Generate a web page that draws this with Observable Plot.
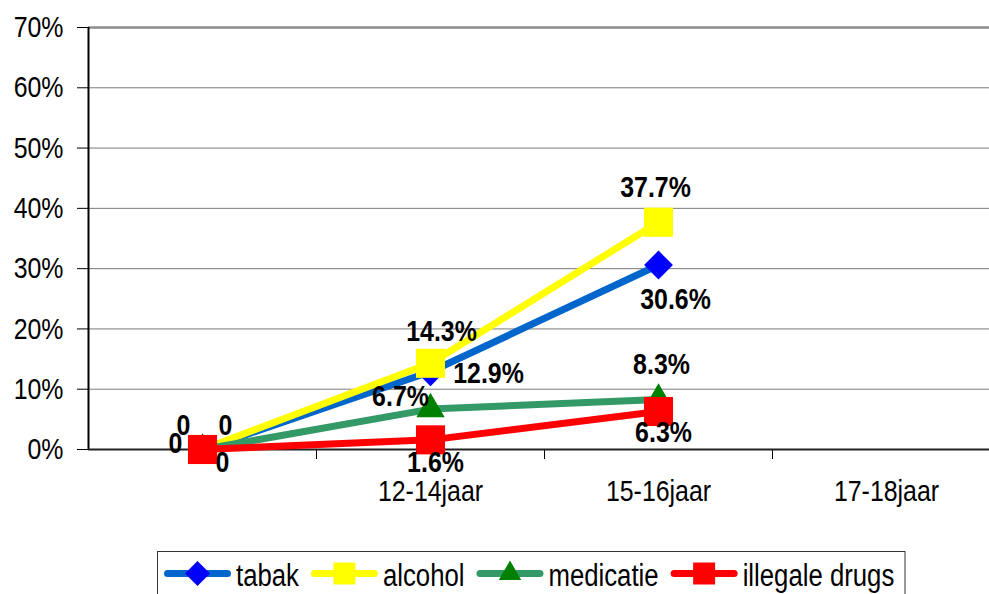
<!DOCTYPE html>
<html>
<head>
<meta charset="utf-8">
<script src="https://cdn.jsdelivr.net/npm/d3@7"></script>
<script src="https://cdn.jsdelivr.net/npm/@observablehq/plot@0.6"></script>
<style>
  html, body { margin: 0; padding: 0; background: #fff; overflow: hidden; }
  #wrap { position: relative; width: 989px; height: 594px; overflow: hidden; }
  #legend { position: absolute; left: 0; top: 545px; }
</style>
</head>
<body>
<div id="wrap"><div id="chart"></div><div id="legend"></div></div>
<script>
// ---- data ----
const categories = ["", "12-14jaar", "15-16jaar", "17-18jaar"];
const seriesNames = ["tabak", "alcohol", "medicatie", "illegale drugs"];
const tabak = [0, 12.9, 30.6, null];
const alcohol = [0, 14.3, 37.7, null];
const medicatie = [0, 6.7, 8.3, null];
const illegaleDrugs = [0, 1.6, 6.3, null];
const yTicks = [0, 10, 20, 30, 40, 50, 60, 70];

// ---- styles ----
const values = [tabak, alcohol, medicatie, illegaleDrugs];
const lineColors = ["#0066CC", "#FFFF00", "#339966", "#FF0000"];
const markColors = ["#0000FF", "#FFFF00", "#008000", "#FF0000"];
const symbols = ["diamond2", "square", "triangle", "square"];
const radii = [13, 16.4, 10.5, 16.4];
const legendRadii = [11.3, 12.4, 8.3, 12.4];
// label offsets (dx, dy) per series per category
const labelOffsets = [
  [[23, -24], [58, 2], [17, 34]],
  [[-19, -24], [11, -32], [-3, -35]],
  [[-27, -6], [-30, -13], [3, -35]],
  [[20, 13], [5, 23], [5, 21]]
];
const font = "Liberation Sans, Arial, sans-serif";
const condenseFactor = 0.83;

function condense(root) {
  root.querySelectorAll("text").forEach(t => {
    const len = t.getComputedTextLength();
    if (len > 0) {
      t.setAttribute("textLength", (len * condenseFactor).toFixed(2));
      t.setAttribute("lengthAdjust", "spacingAndGlyphs");
    }
  });
}

const marks = [];
// gridlines
marks.push(Plot.ruleY(yTicks.filter(d => d > 0 && d < 70), {stroke: "#7a7a7a", strokeWidth: 1}));
marks.push(Plot.ruleY([70], {stroke: "#8c8c8c", strokeWidth: 2.5}));
// axes
marks.push(Plot.axisY({ticks: yTicks, tickFormat: d => d + "%", tickSize: 11, tickPadding: 14, label: null,
  fontSize: 30, fill: "#000", stroke: "#000", strokeWidth: 1, strokeOpacity: 1}));
marks.push(Plot.axisX({ticks: [0.5, 1.5, 2.5], tickFormat: () => "", tickSize: 10, label: null,
  stroke: "#000", strokeOpacity: 1}));
marks.push(Plot.axisX({ticks: [1, 2, 3], tickFormat: i => categories[i], tickSize: 0, tickPadding: 30, label: null,
  fontSize: 30, fill: "#000"}));
marks.push(Plot.ruleX([-0.5], {stroke: "#000", strokeWidth: 2}));
marks.push(Plot.ruleY([0], {stroke: "#222", strokeWidth: 2}));

// series
values.forEach((vals, s) => {
  const data = vals.map((v, i) => ({i, v})).filter(d => d.v != null);
  marks.push(Plot.line(data, {x: "i", y: "v", stroke: lineColors[s], strokeWidth: 7, strokeLinejoin: "round"}));
  marks.push(Plot.dot(data, {x: "i", y: "v", symbol: symbols[s], r: radii[s], fill: markColors[s], stroke: "none"}));
});
// labels
values.forEach((vals, s) => {
  vals.forEach((v, i) => {
    if (v == null) return;
    const [dx, dy] = labelOffsets[s][i];
    marks.push(Plot.text([{i, v}], {x: "i", y: "v", text: d => d.v === 0 ? "0" : d.v.toFixed(1) + "%",
      dx, dy, fontSize: 30, fontWeight: "bold", fill: "#000"}));
  });
});

const chart = Plot.plot({
  width: 989,
  height: 545,
  marginLeft: 88,
  marginRight: 0,
  marginTop: 27,
  marginBottom: 96,
  style: {fontFamily: font, background: "#fff", overflow: "visible"},
  x: {type: "linear", domain: [-0.5, 3.5], range: [88, 1000], axis: null},
  y: {domain: [0, 70], axis: null},
  marks
});
document.getElementById("chart").appendChild(chart);
condense(chart);

// legend (separate svg below the chart)
const symMap = {diamond2: d3.symbolDiamond2, square: d3.symbolSquare, triangle: d3.symbolTriangle};
const lsvg = d3.select("#legend").append("svg").attr("width", 989).attr("height", 49)
  .style("font-family", font).style("font-size", "31px");
lsvg.append("rect").attr("x", 157.5).attr("y", 6.5).attr("width", 747.5).attr("height", 60)
  .attr("fill", "#fff").attr("stroke", "#333").attr("stroke-width", 1);
let cx = 164;
const sampleW = 67, lineY = 28.5, baseY = 40.5;
seriesNames.forEach((name, s) => {
  lsvg.append("line").attr("x1", cx + 3.5).attr("x2", cx + sampleW - 3.5).attr("y1", lineY).attr("y2", lineY)
    .attr("stroke", lineColors[s]).attr("stroke-width", 7).attr("stroke-linecap", "round");
  lsvg.append("path").attr("transform", `translate(${cx + sampleW / 2},${lineY})`)
    .attr("d", d3.symbol(symMap[symbols[s]], Math.PI * legendRadii[s] * legendRadii[s])())
    .attr("fill", markColors[s]);
  const t = lsvg.append("text").attr("x", cx + sampleW + 5).attr("y", baseY).attr("fill", "#000").text(name);
  const len = t.node().getComputedTextLength() * condenseFactor;
  t.attr("textLength", len.toFixed(2)).attr("lengthAdjust", "spacingAndGlyphs");
  cx += sampleW + 5 + len + 12;
});
</script>
</body>
</html>
